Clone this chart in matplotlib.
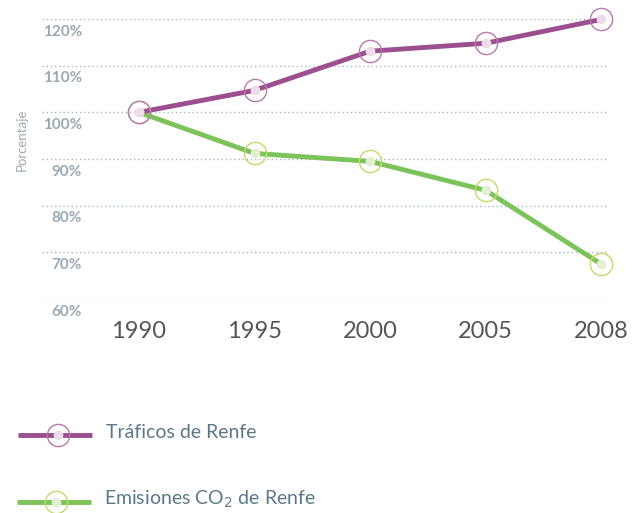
import matplotlib
matplotlib.use('Agg')
import matplotlib.pyplot as plt
import matplotlib.transforms as transforms

# data
years = ['1990', '1995', '2000', '2005', '2008']
traficos = [100.0, 104.7, 113.1, 114.8, 119.9]
emisiones = [100.0, 91.2, 89.5, 83.3, 67.5]
y_ticks = [60, 70, 80, 90, 100, 110, 120]
y_tick_labels = ['60%', '70%', '80%', '90%', '100%', '110%', '120%']

purple = '#9b4f8e'
purple_ring = '#b978ad'
purple_dot = '#eddde9'
green = '#7cc35a'
green_ring = '#c3da6a'
green_dot = '#e3efd2'
grey = '#9aa9b2'
grid_c = '#a9b7c1'
legend_c = '#5b7886'

plt.rcParams['font.family'] = ['Lato', 'DejaVu Sans']

W, H = 637, 513
fig = plt.figure(figsize=(W / 100, H / 100), dpi=100)

left, right = 42, 608
top, bottom = 19, 299
ax = fig.add_axes([left / W, 1 - bottom / H, (right - left) / W, (bottom - top) / H])

x = list(range(len(years)))
px_per_unit = (601 - 139) / 4.0
ax.set_xlim(-(139 - left) / px_per_unit, 4 + (right - 601) / px_per_unit)
ax.set_ylim(60, 120)

for s in ax.spines.values():
    s.set_visible(False)

for t in y_ticks:
    ax.axhline(t, color=grid_c, lw=1.0, ls=(0, (1, 2)), zorder=1)

ax.set_yticks([])
trans = transforms.blended_transform_factory(ax.transAxes, ax.transData)
for t, lab in zip(y_ticks, y_tick_labels):
    ax.text(40 / (right - left), t - 1.2, lab, transform=trans, ha='right', va='top',
            fontsize=11, fontweight='bold', color=grey)

ax.text(-20 / (right - left), 94.2, 'Porcentaje', transform=trans, rotation=90,
        ha='center', va='center', fontsize=9.5, color=grey)

ax.set_xticks(x)
ax.set_xticklabels(years, fontsize=17, color='#555555')
ax.tick_params(axis='x', length=0, pad=16)


def draw_line(a, xs, ys, line_c):
    a.plot(xs, ys, color=line_c, lw=3.5, zorder=3, clip_on=False, solid_capstyle='butt')


def draw_markers(a, xs, ys, ring_c, dot_c):
    a.plot(xs, ys, ls='none', marker='o', ms=16, mfc='none', mec=ring_c, mew=1.0,
           zorder=4, clip_on=False)
    a.plot(xs, ys, ls='none', marker='o', ms=7, mfc=dot_c, mec='none',
           zorder=5, clip_on=False)


draw_line(ax, x, emisiones, green)
draw_markers(ax, x, emisiones, green_ring, green_dot)
draw_line(ax, x, traficos, purple)
draw_markers(ax, x, traficos, purple_ring, purple_dot)

# legend drawn in pixel coordinates
lax = fig.add_axes([0, 0, 1, 1])
lax.set_xlim(0, W)
lax.set_ylim(H, 0)
lax.axis('off')
draw_line(lax, [18, 92], [435, 435], purple)
draw_markers(lax, [58], [435], purple_ring, purple_dot)
draw_line(lax, [17, 91], [502, 502], green)
draw_markers(lax, [56], [502], green_ring, green_dot)
lax.text(106, 433, 'Tráficos de Renfe', fontsize=14, color=legend_c, va='center', ha='left')
lax.text(104, 499, 'Emisiones CO$_2$ de Renfe', fontsize=14, color=legend_c, va='center', ha='left')

fig.savefig('out.png', dpi=100)
